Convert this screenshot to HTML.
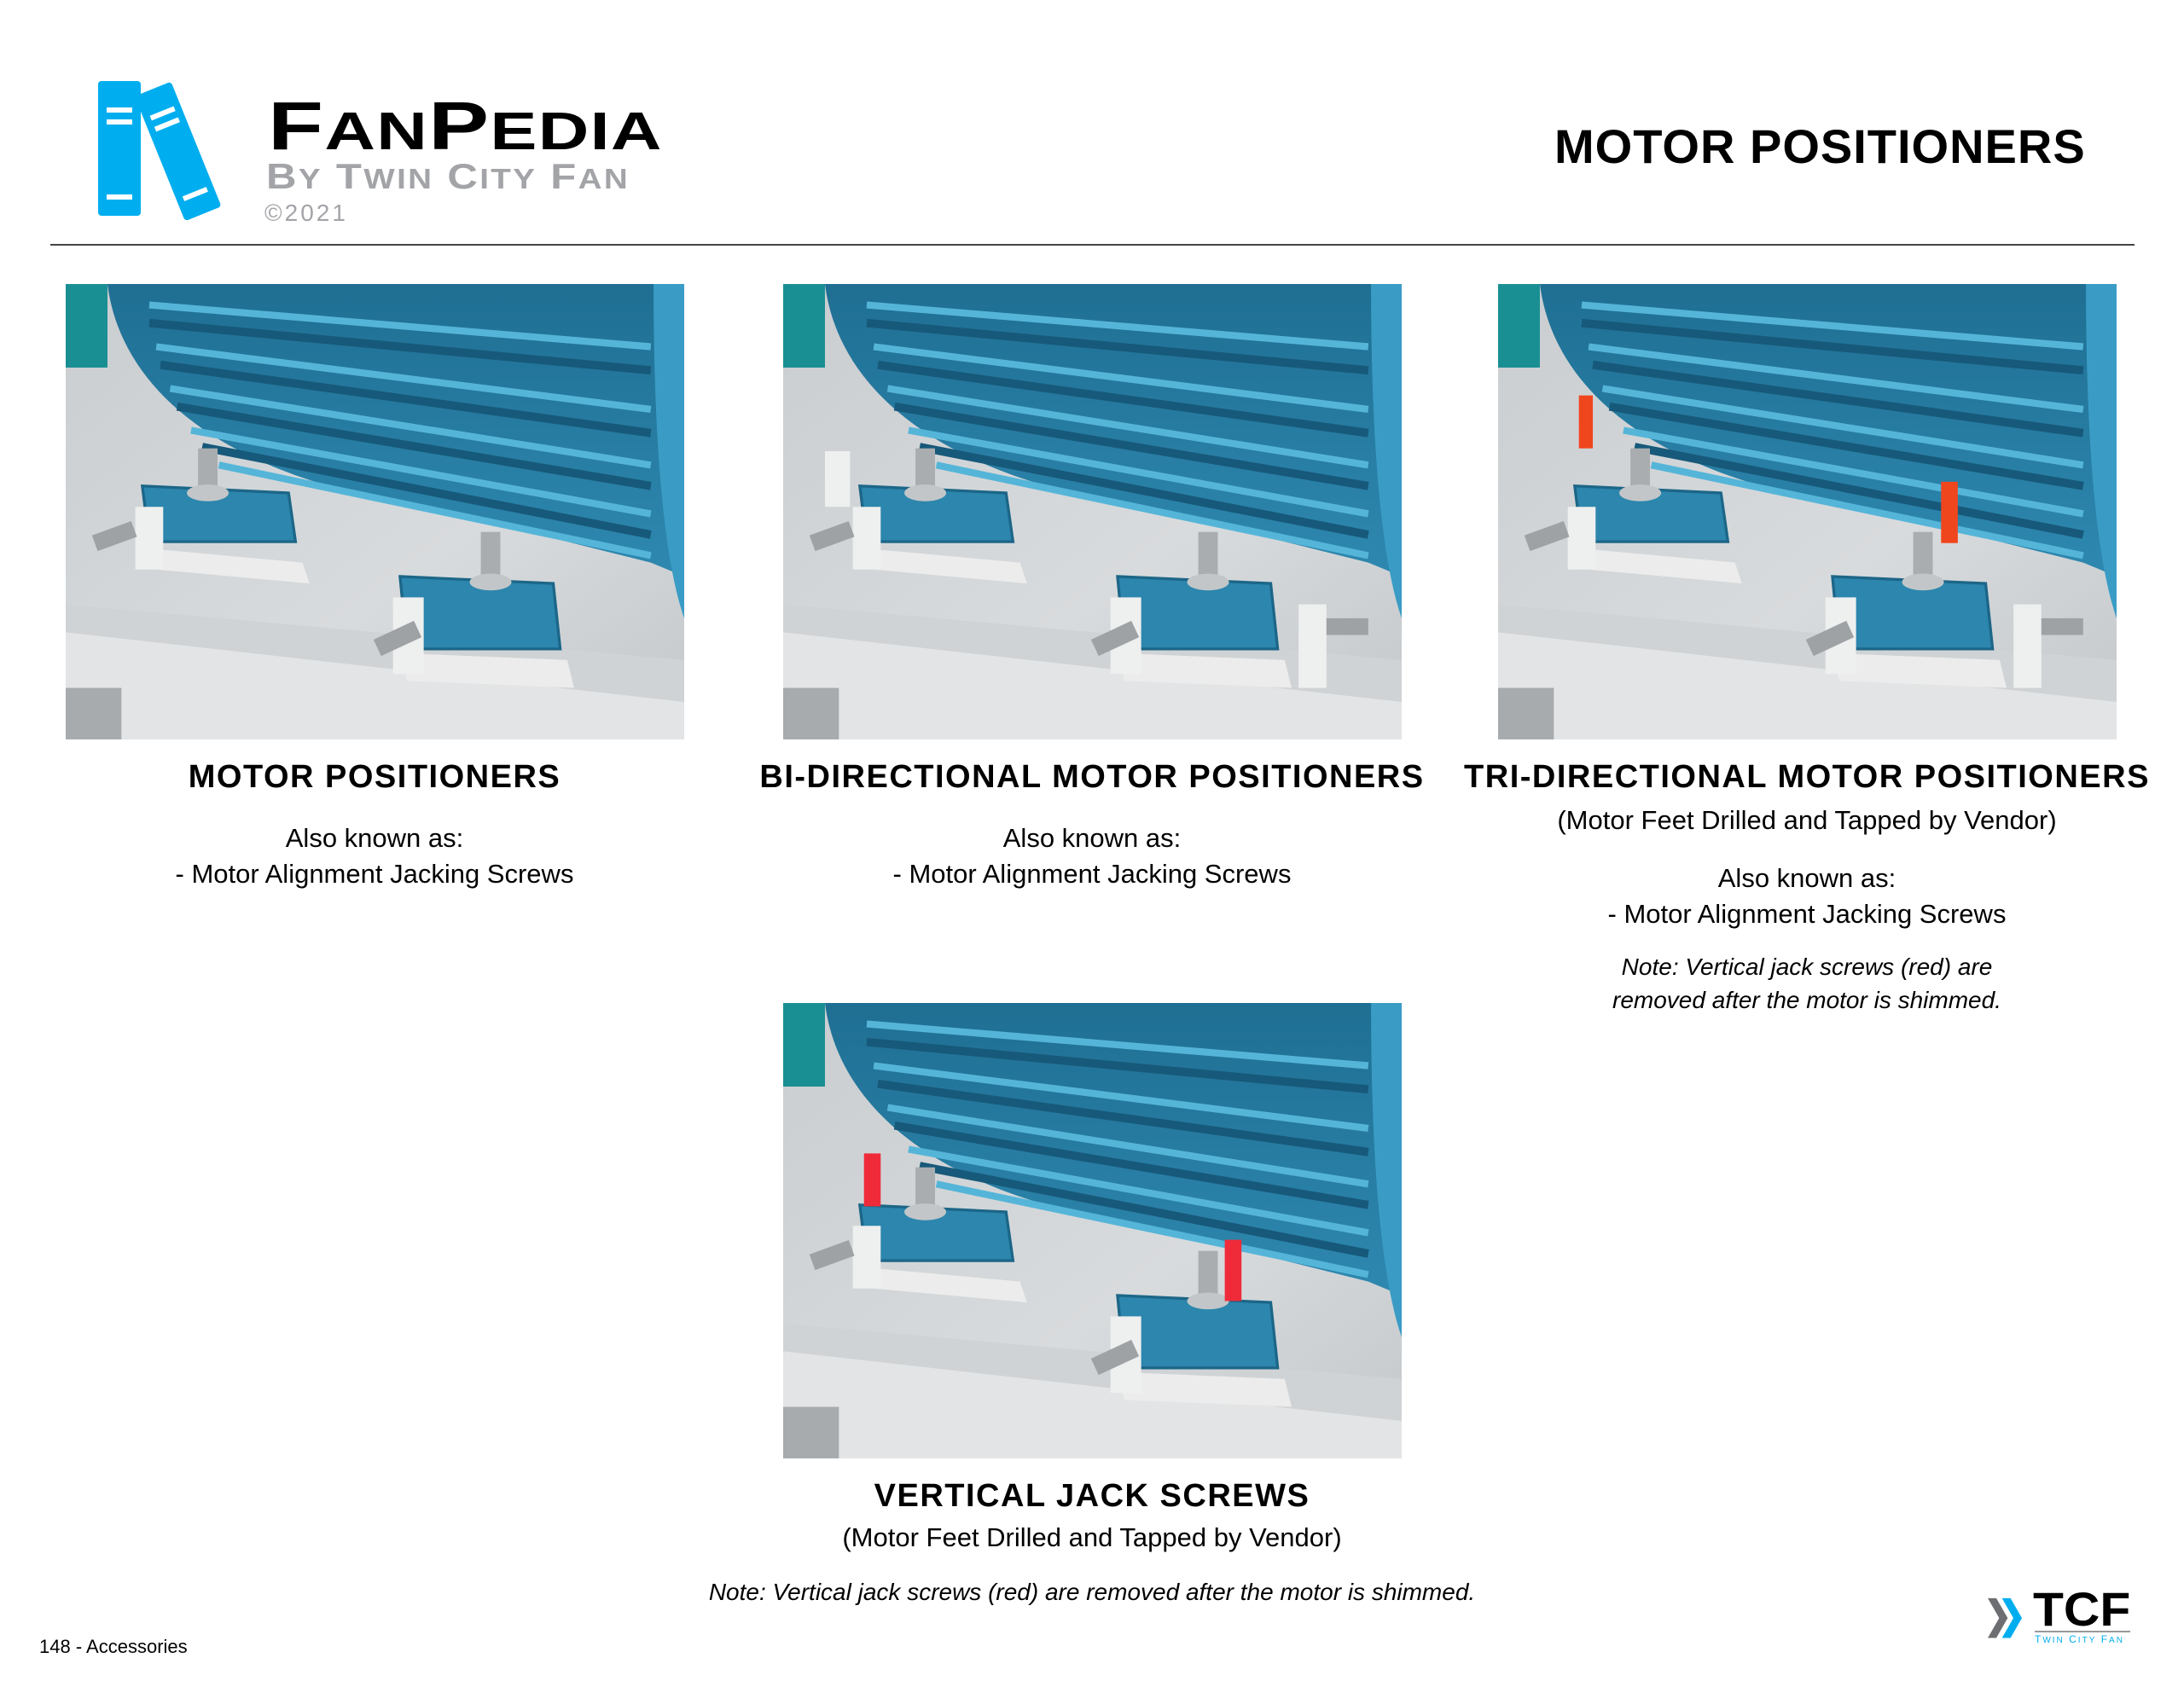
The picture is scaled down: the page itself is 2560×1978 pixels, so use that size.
<!DOCTYPE html>
<html><head><meta charset="utf-8"><style>
html,body{margin:0;padding:0;background:#fff;}
body{width:2560px;height:1978px;position:relative;overflow:hidden;font-family:"Liberation Sans",sans-serif;color:#000;}
.a{position:absolute;}
.c{position:absolute;text-align:center;white-space:nowrap;}
.t{font-weight:bold;font-size:38px;letter-spacing:1.5px;}
.b{font-size:31px;}
.i{font-size:28px;font-style:italic;}
svg.img{position:absolute;width:725px;height:534px;}
</style></head><body>
<svg width="0" height="0" style="position:absolute">
<defs>
<linearGradient id="bg" x1="0" y1="0" x2="1" y2="1"><stop offset="0" stop-color="#c9cdd0"/><stop offset="0.6" stop-color="#d8dbdd"/><stop offset="1" stop-color="#c4c8cb"/></linearGradient>
<linearGradient id="mo" x1="0" y1="0" x2="0" y2="1"><stop offset="0" stop-color="#1f6f93"/><stop offset="1" stop-color="#2e88b0"/></linearGradient>
<g id="scene">
<rect width="444" height="327" fill="url(#bg)"/>
<rect x="0" y="0" width="30" height="60" fill="#1a8f93"/>
<polygon points="0,250 444,300 444,327 0,327" fill="#e2e4e5"/>
<polygon points="0,230 444,270 444,300 0,250" fill="#d0d3d5"/>
<rect x="0" y="290" width="40" height="37" fill="#a7abae"/>
<path d="M30,0 C40,80 120,140 260,160 L420,200 L444,210 L444,0 Z" fill="url(#mo)"/>
<g stroke="#55b5d8" stroke-width="5" fill="none">
<line x1="60" y1="15" x2="420" y2="45"/>
<line x1="65" y1="45" x2="420" y2="90"/>
<line x1="75" y1="75" x2="420" y2="130"/>
<line x1="90" y1="105" x2="420" y2="165"/>
<line x1="110" y1="130" x2="420" y2="195"/>
</g>
<g stroke="#17597a" stroke-width="6" fill="none">
<line x1="60" y1="28" x2="420" y2="62"/>
<line x1="68" y1="58" x2="420" y2="107"/>
<line x1="80" y1="88" x2="420" y2="145"/>
<line x1="98" y1="117" x2="420" y2="180"/>
</g>
<path d="M422,0 L444,0 L444,240 C430,200 422,120 422,0 Z" fill="#3a9cc5"/>
<polygon points="60,190 170,200 175,215 65,205" fill="#ececec"/>
<path d="M55,145 L160,150 L165,185 L60,185 Z" fill="#2c86ad" stroke="#1c6688" stroke-width="2"/>
<polygon points="240,265 360,270 365,290 245,285" fill="#ececec"/>
<path d="M240,210 L350,215 L355,262 L245,262 Z" fill="#2c86ad" stroke="#1c6688" stroke-width="2"/>
<rect x="95" y="118" width="14" height="30" fill="#a9adb0"/><ellipse cx="102" cy="150" rx="15" ry="6" fill="#c3c6c8"/>
<rect x="298" y="178" width="14" height="35" fill="#a9adb0"/><ellipse cx="305" cy="214" rx="15" ry="6" fill="#c3c6c8"/>
<rect x="50" y="160" width="20" height="45" fill="#eeefef"/>
<rect x="235" y="225" width="22" height="55" fill="#eeefef"/>
<rect x="20" y="175" width="30" height="12" fill="#9ea2a5" transform="rotate(-20 35 181)"/>
<rect x="222" y="248" width="32" height="13" fill="#9ea2a5" transform="rotate(-25 238 254)"/>
</g>
</defs></svg>

<!-- header logo -->
<svg class="a" style="left:110px;top:88px" width="175" height="170" viewBox="0 0 175 170">
<rect x="5" y="7" width="50" height="158" rx="4" fill="#00aeef"/>
<rect x="15" y="38" width="30" height="6" fill="#fff"/><rect x="15" y="52" width="30" height="6" fill="#fff"/><rect x="15" y="140" width="30" height="6" fill="#fff"/>
<g transform="translate(14 0) rotate(-22 85 85)"><rect x="60" y="10" width="46" height="158" rx="4" fill="#00aeef"/>
<rect x="68" y="38" width="30" height="6" fill="#fff"/><rect x="68" y="52" width="30" height="6" fill="#fff"/><rect x="68" y="140" width="30" height="6" fill="#fff"/></g>
</svg>
<div class="a" style="left:314px;top:108px;font-weight:bold;font-size:80px;line-height:80px;letter-spacing:1px;transform:scaleX(1.33);transform-origin:left">F<span style="font-size:62px">AN</span>P<span style="font-size:62px">EDIA</span></div>
<div class="a" style="left:312px;top:186px;font-weight:bold;font-size:42px;line-height:42px;color:#a3a4a8;letter-spacing:2px;transform:scaleX(1.17);transform-origin:left">B<span style="font-size:33px">Y</span> T<span style="font-size:33px">WIN</span> C<span style="font-size:33px">ITY</span> F<span style="font-size:33px">AN</span></div>
<div class="a" style="left:310px;top:234px;font-size:28px;color:#a3a4a8;letter-spacing:3px">©2021</div>

<div class="a" style="left:1822px;top:140px;font-weight:bold;font-size:56px;letter-spacing:1px;line-height:64px">MOTOR POSITIONERS</div>
<div class="a" style="left:59px;top:286px;width:2443px;height:2px;background:#444"></div>

<svg class="img" style="left:77px;top:333px" viewBox="0 0 444 327"><use href="#scene"/></svg>
<svg class="img" style="left:918px;top:333px" viewBox="0 0 444 327"><use href="#scene"/>
<rect x="30" y="120" width="18" height="40" fill="#eeefef"/><rect x="370" y="230" width="20" height="60" fill="#eeefef"/><rect x="390" y="240" width="30" height="12" fill="#9ea2a5"/></svg>
<svg class="img" style="left:1756px;top:333px" viewBox="0 0 444 327"><use href="#scene"/>
<rect x="370" y="230" width="20" height="60" fill="#eeefef"/><rect x="390" y="240" width="30" height="12" fill="#9ea2a5"/>
<rect x="58" y="80" width="10" height="38" fill="#f0461e"/><rect x="318" y="142" width="12" height="44" fill="#f0461e"/></svg>
<svg class="img" style="left:918px;top:1176px" viewBox="0 0 444 327"><use href="#scene"/>
<rect x="58" y="108" width="12" height="38" fill="#ef2b3a"/><rect x="317" y="170" width="12" height="44" fill="#ef2b3a"/></svg>

<div class="c t" style="left:0;width:878px;top:890px">MOTOR POSITIONERS</div>
<div class="c b" style="left:0;width:878px;top:965px">Also known as:</div>
<div class="c b" style="left:0;width:878px;top:1007px">- Motor Alignment Jacking Screws</div>

<div class="c t" style="left:780px;width:1000px;top:890px">BI-DIRECTIONAL MOTOR POSITIONERS</div>
<div class="c b" style="left:780px;width:1000px;top:965px">Also known as:</div>
<div class="c b" style="left:780px;width:1000px;top:1007px">- Motor Alignment Jacking Screws</div>

<div class="c t" style="left:1618px;width:1000px;top:890px">TRI-DIRECTIONAL MOTOR POSITIONERS</div>
<div class="c b" style="left:1618px;width:1000px;top:944px">(Motor Feet Drilled and Tapped by Vendor)</div>
<div class="c b" style="left:1618px;width:1000px;top:1012px">Also known as:</div>
<div class="c b" style="left:1618px;width:1000px;top:1054px">- Motor Alignment Jacking Screws</div>
<div class="c i" style="left:1618px;width:1000px;top:1118px">Note: Vertical jack screws (red) are</div>
<div class="c i" style="left:1618px;width:1000px;top:1157px">removed after the motor is shimmed.</div>

<div class="c t" style="left:780px;width:1000px;top:1733px">VERTICAL JACK SCREWS</div>
<div class="c b" style="left:780px;width:1000px;top:1785px">(Motor Feet Drilled and Tapped by Vendor)</div>
<div class="c i" style="left:680px;width:1200px;top:1851px">Note: Vertical jack screws (red) are removed after the motor is shimmed.</div>

<div class="a" style="left:46px;top:1918px;font-size:22px">148 - Accessories</div>

<svg class="a" style="left:2330px;top:1870px" width="50" height="56" viewBox="0 0 60 62">
<polygon points="0,2 12,2 28,30 12,58 0,58 16,30" fill="#6d6e71"/>
<polygon points="20,2 32,2 48,30 32,58 20,58 36,30" fill="#00aeef"/>
</svg>
<div class="a" style="left:2383px;top:1862px;font-weight:bold;font-size:56px;line-height:50px;letter-spacing:0px;transform:scaleX(1.05);transform-origin:left">TCF</div>
<div class="a" style="left:2385px;top:1912px;width:112px;height:2px;background:#999"></div>
<div class="a" style="left:2385px;top:1915px;font-size:12px;color:#00aeef;letter-spacing:2px">T<span style="font-size:10px">WIN</span> C<span style="font-size:10px">ITY</span> F<span style="font-size:10px">AN</span></div>
</body></html>
